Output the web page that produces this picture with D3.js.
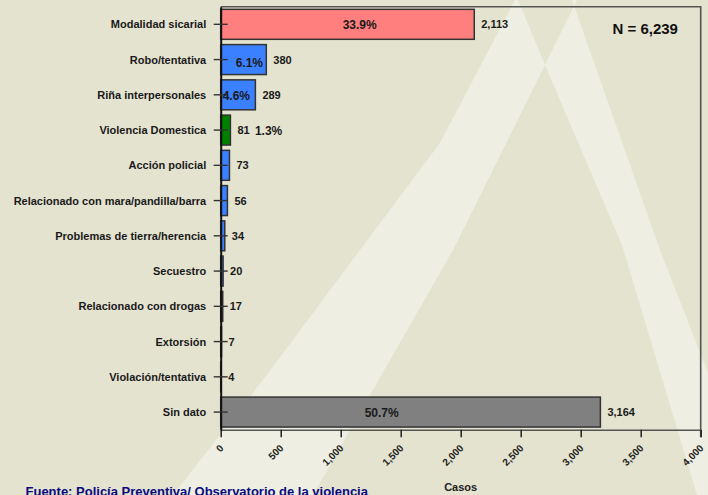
<!DOCTYPE html>
<html>
<head>
<meta charset="utf-8">
<script src="https://cdn.jsdelivr.net/npm/d3@7"></script>
<style>
  html, body { margin: 0; padding: 0; background: #E4E3D0; }
  svg { display: block; }
  text { font-family: "Liberation Sans", Arial, Helvetica, sans-serif; font-weight: bold; }
</style>
</head>
<body>
<svg id="chart" width="708" height="495"></svg>
<script>
// ---------- data ----------
const categories = [
  "Modalidad sicarial",
  "Robo/tentativa",
  "Riña interpersonales",
  "Violencia Domestica",
  "Acción policial",
  "Relacionado con mara/pandilla/barra",
  "Problemas de tierra/herencia",
  "Secuestro",
  "Relacionado con drogas",
  "Extorsión",
  "Violación/tentativa",
  "Sin dato"
];
const values = [2113, 380, 289, 81, 73, 56, 34, 20, 17, 7, 4, 3164];
const totalN = 6239;
const xTickValues = [0, 500, 1000, 1500, 2000, 2500, 3000, 3500, 4000];
const pctCategories = ["Modalidad sicarial", "Robo/tentativa", "Riña interpersonales", "Violencia Domestica", "Sin dato"];
const axisTitle = "Casos";
const nLabel = "N = 6,239";
const sourceText = "Fuente: Policía Preventiva/ Observatorio de la violencia";

// ---------- styles / layout ----------
const colorOf = c => c === "Modalidad sicarial" ? "#FF7F7F"
  : c === "Violencia Domestica" ? "#007F00"
  : c === "Sin dato" ? "#808080" : "#3A80FF";
// horizontal offset (px from the zero line) for the in-bar percentage labels
const pctOffset = {"Modalidad sicarial": 122, "Robo/tentativa": 15, "Riña interpersonales": 2, "Sin dato": 144};

const svg = d3.select("#chart");

// background watermark ("A" shaped light bands, even-odd)
const legL = [[515,-10],[515,0],[440,143],[263,380],[173,495],[160,510],[305,510],[313,495],[350,430],[453,250],[545,65],[577,0],[582,-10]];
const legR = [[514,-10],[518,0],[545,65],[622,245],[697,495],[703,510],[770,510],[755,495],[708,373],[660,250],[572,0],[569,-10]];
const line = d3.line();
svg.append("path")
  .attr("d", line(legL) + "Z" + line(legR) + "Z")
  .attr("fill", "#EEEFE2")
  .attr("fill-rule", "evenodd");

const x0 = 220.7, x1 = 700.7, yTop = 6.7, yBot = 429.7;
const x = d3.scaleLinear().domain([0, 4000]).range([x0, x1]);
const y = d3.scaleBand().domain(categories).range([yTop, yBot]).paddingInner(0.15).paddingOuter(0.075);

const data = categories.map((c, i) => ({c, v: values[i]}));

// frame (top + right)
svg.append("path")
  .attr("d", `M${x0},${yTop}H${x1}V${yBot + 7.5}`)
  .attr("fill", "none").attr("stroke", "#555").attr("stroke-width", 1.6);

// bars
svg.append("g").selectAll("rect").data(data).join("rect")
  .attr("x", x(0))
  .attr("y", d => y(d.c))
  .attr("width", d => x(d.v) - x(0))
  .attr("height", y.bandwidth())
  .attr("fill", d => colorOf(d.c))
  .attr("stroke", "#333")
  .attr("stroke-width", 1.5);

// bottom axis
const xAxis = d3.axisBottom(x).tickValues(xTickValues).tickFormat(d3.format(",")).tickSize(7.5).tickSizeOuter(0);
const gx = svg.append("g").attr("transform", `translate(0,${yBot})`).call(xAxis);
gx.select(".domain").attr("stroke", "#555").attr("stroke-width", 1.6);
gx.selectAll(".tick line").attr("stroke", "#222").attr("stroke-width", 1.5);
gx.selectAll(".tick text")
  .attr("font-size", 10).attr("fill", "#222")
  .attr("text-anchor", "end")
  .attr("dy", 0).attr("y", 0)
  .attr("transform", "translate(3,19) rotate(-45)");

// left axis
const yAxis = d3.axisLeft(y).tickSize(7).tickSizeOuter(0).tickPadding(8);
const gy = svg.append("g").attr("transform", `translate(${x0},0)`).call(yAxis);
gy.select(".domain").attr("stroke", "#111").attr("stroke-width", 2);
gy.selectAll(".tick line").attr("x2", -7).attr("x1", 7).attr("stroke", "#333").attr("stroke-width", 1.4);
gy.selectAll(".tick text").attr("font-size", 11).attr("fill", "#1a1a1a").attr("x", -14.5).attr("dy", "0.36em");

// value labels
svg.append("g").selectAll("text").data(data).join("text")
  .attr("x", d => x(d.v) + 7)
  .attr("y", d => y(d.c) + y.bandwidth() / 2 + 4)
  .attr("font-size", 11).attr("fill", "#1a1a1a")
  .text(d => d3.format(",")(d.v));

// percentage labels
const pctFmt = v => d3.format(".1f")(v / totalN * 100) + "%";
svg.append("g").selectAll("text").data(data.filter(d => pctCategories.includes(d.c))).join("text")
  .attr("x", d => d.c in pctOffset ? x(0) + pctOffset[d.c] : x(d.v) + 7 + 17.5)
  .attr("y", d => y(d.c) + y.bandwidth() / 2 + (d.c === "Robo/tentativa" ? 7 : 4.8))
  .attr("font-size", 12).attr("fill", "#1a1a1a")
  .text(d => pctFmt(d.v));

// N label
svg.append("text").attr("x", 612.5).attr("y", 34).attr("font-size", 15).attr("fill", "#111").text(nLabel);

// axis title
svg.append("text").attr("x", (x0 + x1) / 2).attr("y", 491).attr("text-anchor", "middle")
  .attr("font-size", 11).attr("fill", "#222").text(axisTitle);

// source (cut by the bottom edge, as in the reference)
svg.append("text").attr("x", 25.5).attr("y", 495.5).attr("font-size", 13).attr("fill", "#0A0A80").text(sourceText);
</script>
</body>
</html>
